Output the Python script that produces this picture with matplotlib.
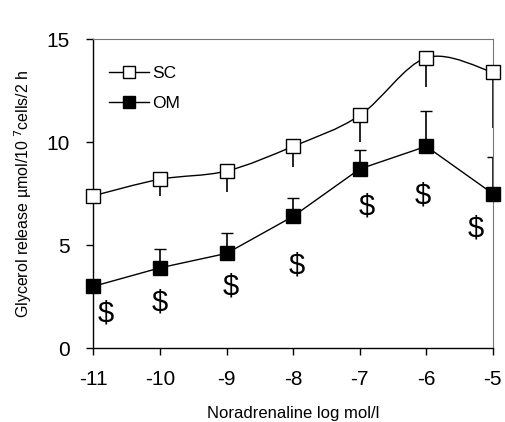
import numpy as np
import matplotlib
matplotlib.use("Agg")
import matplotlib.pyplot as plt
from matplotlib.path import Path
from matplotlib.patches import PathPatch
from matplotlib.lines import Line2D

plt.rcParams['font.family'] = ['Liberation Sans', 'DejaVu Sans']

# noradrenaline concentration, log mol/l
conc = [-11, -10, -9, -8, -7, -6, -5]
# subcutaneous (SC) glycerol release and lower error
sc = [7.4, 8.2, 8.6, 9.8, 11.3, 14.1, 13.4]
sc_err = [0.0, 0.8, 1.0, 1.0, 1.3, 1.4, 2.7]
# omental (OM) glycerol release and upper error
om = [3.0, 3.9, 4.6, 6.4, 8.7, 9.8, 7.5]
om_err = [0.0, 0.9, 1.0, 0.9, 0.9, 1.7, 1.8]
# significance markers
sig_x = [-10.82, -10.0, -8.93, -7.95, -6.9, -6.05, -5.25]
sig_y = [1.7, 2.2, 3.0, 4.0, 6.9, 7.4, 5.8]

fig = plt.figure(figsize=(5.06, 4.22), dpi=100)
ax = fig.add_axes([0.1845, 0.175, 0.7895, 0.732])

# smoothed SC line (Catmull-Rom style bezier through the points)
x = np.array(conc, float); y = np.array(sc, float)
verts = [(x[0], y[0])]; codes = [Path.MOVETO]
for i in range(len(x) - 1):
    p0 = np.array([x[max(i-1, 0)], y[max(i-1, 0)]])
    p1 = np.array([x[i], y[i]]); p2 = np.array([x[i+1], y[i+1]])
    p3 = np.array([x[min(i+2, len(x)-1)], y[min(i+2, len(x)-1)]])
    c1 = p1 + (p2 - p0) / 6.0
    c2 = p2 - (p3 - p1) / 6.0
    verts += [tuple(c1), tuple(c2), tuple(p2)]
    codes += [Path.CURVE4] * 3
ax.add_patch(PathPatch(Path(verts, codes), fill=False, lw=1.0, ec='black', zorder=2))

ax.errorbar(conc, sc, yerr=[sc_err, [0]*7], fmt='none', ecolor='black',
            elinewidth=1.2, capsize=0, zorder=1)
ax.plot(conc, sc, ls='none', marker='s', ms=9.5, mfc='white', mec='black',
        mew=1.0, zorder=3, clip_on=False)

ax.errorbar(conc, om, yerr=[[0]*7, om_err], fmt='none', ecolor='black',
            elinewidth=1.2, capsize=4, capthick=1.0, zorder=1)
ax.plot(conc, om, color='black', lw=1.0, marker='s', ms=9.5, mfc='black',
        mec='black', zorder=3, clip_on=False)

for sx, sy in zip(sig_x, sig_y):
    ax.text(sx, sy, '$', fontsize=21, ha='center', va='center')

ax.set_xlim(-11, -5)
ax.set_ylim(0, 15)
ax.set_xticks(conc)
ax.set_xticklabels([str(c) for c in conc])
ax.set_yticks([0, 5, 10, 15])
ax.tick_params(axis='both', direction='out', length=5, width=1, labelsize=15)
ax.tick_params(axis='x', pad=11)
ax.tick_params(axis='y', pad=12)
ax.tick_params(top=False, right=False)
for s in ['top', 'right']:
    ax.spines[s].set_color('#777777')
for s in ['left', 'bottom']:
    ax.spines[s].set_linewidth(1.0)

ax.set_xlabel('Noradrenaline log mol/l', fontsize=12, labelpad=12)
ax.set_ylabel('Glycerol release µmol/10$^{\\ 7}$cells/2 h', fontsize=11.5, labelpad=9)

handles = [Line2D([], [], color='black', lw=1, marker='s', ms=9, mfc='white', mec='black'),
           Line2D([], [], color='black', lw=1, marker='s', ms=9, mfc='black', mec='black')]
ax.legend(handles, ['SC', 'OM'], loc='upper left', bbox_to_anchor=(0.0, 0.965),
          frameon=False, fontsize=12.5, handlelength=2.3, handletextpad=0.2,
          labelspacing=0.85)

fig.savefig('out.png', dpi=100)
